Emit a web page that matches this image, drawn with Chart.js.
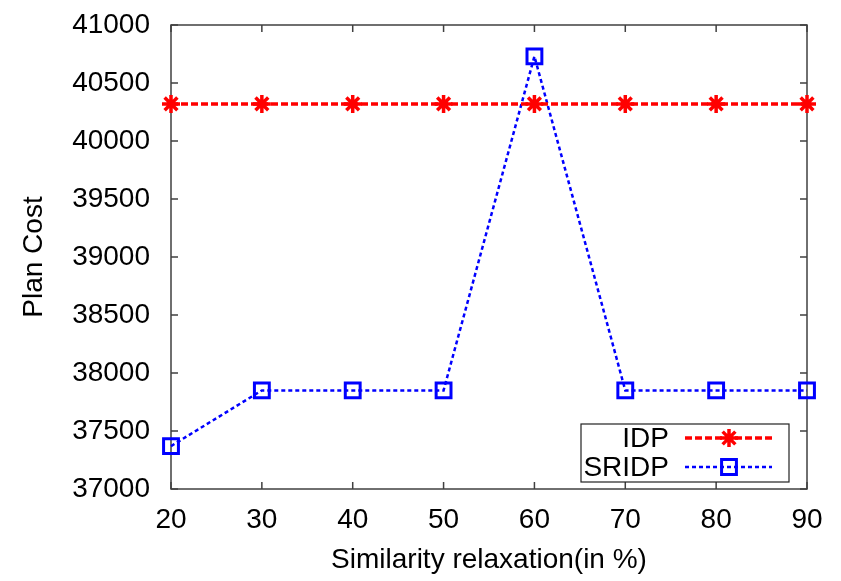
<!DOCTYPE html>
<html>
<head>
<meta charset="utf-8">
<script src="https://cdn.jsdelivr.net/npm/chart.js@4.4.1/dist/chart.umd.min.js"></script>
<style>
  html, body { margin: 0; padding: 0; background: #fff; }
  #wrap { width: 841px; height: 581px; }
</style>
</head>
<body>
<div id="wrap"><canvas id="c" width="841" height="581"></canvas></div>
<script>
// Similarity relaxation levels (%)
const relaxation = [20, 30, 40, 50, 60, 70, 80, 90];
// Plan cost for each method
const idpCost = [40320, 40320, 40320, 40320, 40320, 40320, 40320, 40320];
const sridpCost = [37370, 37850, 37850, 37850, 40730, 37850, 37850, 37850];
const seriesNames = ['IDP', 'SRIDP'];

const FONT = 'Liberation Sans, Arial, sans-serif';
const FONT_SIZE = 28;
const AXIS_COLOR = '#404040';

// gnuplot-style frame: border plus inward ticks mirrored on all sides, and boxed legend
const framePlugin = {
  id: 'frame',
  beforeDatasetsDraw(chart) {
    const { ctx, chartArea: a, scales } = chart;
    ctx.save();
    ctx.strokeStyle = AXIS_COLOR;
    ctx.lineWidth = 1.5;
    ctx.strokeRect(a.left, a.top, a.right - a.left, a.bottom - a.top);
    const t = 7;
    ctx.beginPath();
    scales.x.ticks.forEach(tk => {
      const x = scales.x.getPixelForValue(tk.value);
      ctx.moveTo(x, a.bottom); ctx.lineTo(x, a.bottom - t);
      ctx.moveTo(x, a.top); ctx.lineTo(x, a.top + t);
    });
    scales.y.ticks.forEach(tk => {
      const y = scales.y.getPixelForValue(tk.value);
      ctx.moveTo(a.left, y); ctx.lineTo(a.left + t, y);
      ctx.moveTo(a.right, y); ctx.lineTo(a.right - t, y);
    });
    ctx.stroke();
    ctx.restore();
  },
  afterDatasetsDraw(chart) {
    const { ctx, chartArea: a } = chart;
    const boxL = a.right - 226, boxR = a.right - 18, boxT = a.bottom - 65, boxB = a.bottom - 7;
    ctx.save();
    ctx.fillStyle = '#fff';
    ctx.fillRect(boxL, boxT, boxR - boxL, boxB - boxT);
    ctx.strokeStyle = '#222';
    ctx.lineWidth = 1.2;
    ctx.strokeRect(boxL, boxT, boxR - boxL, boxB - boxT);
    const rows = [boxT + 14, boxT + 43];
    chart.data.datasets.forEach((ds, i) => {
      const y = rows[i];
      ctx.fillStyle = '#000';
      ctx.font = FONT_SIZE + 'px ' + FONT;
      ctx.textAlign = 'right';
      ctx.textBaseline = 'middle';
      ctx.fillText(ds.label, boxL + 88, y + 1);
      ctx.strokeStyle = ds.borderColor;
      ctx.lineWidth = ds.borderWidth;
      ctx.setLineDash(ds.borderDash);
      ctx.beginPath();
      ctx.moveTo(boxL + 104, y);
      ctx.lineTo(boxL + 191, y);
      ctx.stroke();
      ctx.setLineDash([]);
      ctx.fillStyle = ds.pointBackgroundColor;
      ctx.strokeStyle = ds.pointBorderColor;
      ctx.lineWidth = ds.pointBorderWidth;
      Chart.helpers.drawPoint(ctx, {
        pointStyle: ds.pointStyle,
        radius: ds.pointRadius,
        borderWidth: ds.pointBorderWidth,
        rotation: 0
      }, boxL + 148, y);
    });
    ctx.restore();
  }
};

const plainNumber = v => String(v);

new Chart(document.getElementById('c'), {
  type: 'line',
  data: {
    datasets: [
      {
        label: seriesNames[0],
        data: relaxation.map((x, i) => ({ x, y: idpCost[i] })),
        borderColor: '#ff0000',
        backgroundColor: '#ff0000',
        borderWidth: 3.5,
        borderDash: [7, 3],
        pointStyle: 'star',
        pointRadius: 9,
        pointBorderWidth: 3.5,
        pointBorderColor: '#ff0000',
        pointBackgroundColor: '#ff0000'
      },
      {
        label: seriesNames[1],
        data: relaxation.map((x, i) => ({ x, y: sridpCost[i] })),
        borderColor: '#0000ff',
        backgroundColor: 'rgba(0,0,0,0)',
        borderWidth: 2.5,
        borderDash: [4, 3],
        pointStyle: 'rect',
        pointRadius: 10.5,
        pointBorderWidth: 3,
        pointBorderColor: '#0000ff',
        pointBackgroundColor: 'rgba(0,0,0,0)'
      }
    ]
  },
  plugins: [framePlugin],
  options: {
    responsive: false,
    animation: false,
    devicePixelRatio: 1,
    clip: false,
    layout: { padding: { top: 25, right: 34, left: 13, bottom: 0 } },
    plugins: {
      legend: { display: false },
      tooltip: { enabled: false }
    },
    scales: {
      x: {
        type: 'linear',
        min: 20, max: 90,
        grid: { display: false, drawTicks: false },
        border: { display: false },
        ticks: { stepSize: 10, padding: 14, color: '#000', font: { family: FONT, size: FONT_SIZE }, callback: plainNumber },
        title: { display: true, text: 'Similarity relaxation(in %)', color: '#000', font: { family: FONT, size: FONT_SIZE } },
        afterFit(s) { s.height = 92; s.paddingLeft = 0; s.paddingRight = 0; }
      },
      y: {
        min: 37000, max: 41000,
        grid: { display: false, drawTicks: false },
        border: { display: false },
        ticks: { stepSize: 500, padding: 21, color: '#000', font: { family: FONT, size: FONT_SIZE }, callback: plainNumber },
        title: { display: true, text: 'Plan Cost', color: '#000', font: { family: FONT, size: FONT_SIZE } },
        afterFit(s) { s.width = 158; s.paddingTop = 0; s.paddingBottom = 0; }
      }
    }
  }
});
</script>
</body>
</html>
